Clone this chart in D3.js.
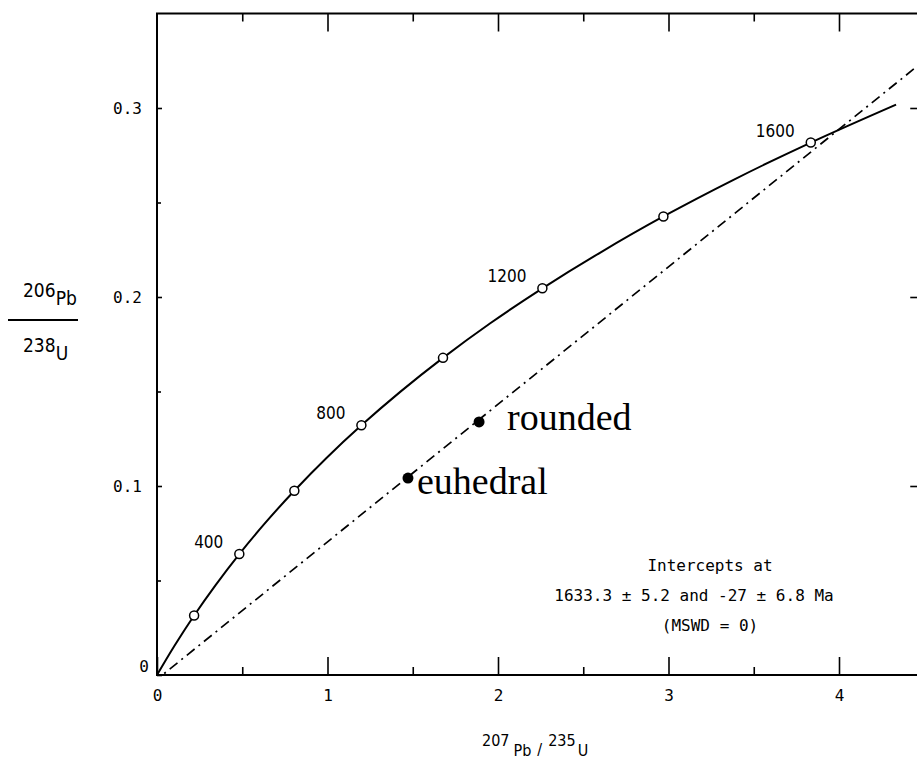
<!DOCTYPE html>
<html>
<head>
<meta charset="utf-8">
<script src="https://cdn.jsdelivr.net/npm/d3@7"></script>
<style>
  body { margin: 0; background: #fff; }
  text { fill: #000; }
</style>
</head>
<body>
<script>
// Concordia curve (ages in Ma)
var concordiaAge = [0, 100, 200, 300, 400, 500, 600, 700, 800, 900, 1000, 1100, 1200, 1300, 1400, 1500, 1600, 1700];
var concordiaX = [0, 0.1035, 0.2177, 0.3437, 0.4828, 0.6362, 0.8056, 0.9925, 1.1988, 1.4264, 1.6774, 1.9546, 2.2603, 2.5977, 2.9701, 3.3812, 3.8344, 4.3347];
var concordiaY = [0, 0.0156, 0.0315, 0.0476, 0.0640, 0.0806, 0.0975, 0.1147, 0.1321, 0.1498, 0.1678, 0.1861, 0.2046, 0.2234, 0.2426, 0.2620, 0.2817, 0.3018];

// Age markers (open circles) and the ones that carry a label
var markedAges = [200, 400, 600, 800, 1000, 1200, 1400, 1600];
var labelledAges = [400, 800, 1200, 1600];

// Zircon fractions
var sampleNames = ["euhedral", "rounded"];
var sampleX = [1.472, 1.889];
var sampleY = [0.1042, 0.1339];

// Discordia chord (lower intercept -> past upper intercept)
var discordiaX = [-0.026, 4.6];
var discordiaY = [-0.0042, 0.3324];

// Ticks
var xMajorTicks = [0, 1, 2, 3, 4];
var xMinorTicks = [0.5, 1.5, 2.5, 3.5];
var yMajorTicks = [0, 0.1, 0.2, 0.3];
var yMinorTicks = [0.05, 0.15, 0.25];

var interceptLines = ["Intercepts at", "1633.3 \u00b1 5.2 and -27 \u00b1 6.8 Ma", "(MSWD = 0)"];

var width = 917,
    height = 763;

var plotFont = "'DejaVu Sans Condensed', 'DejaVu Sans', sans-serif";
var monoFont = "'DejaVu Sans Mono', monospace";

var x = d3.scaleLinear().domain([0, 4.5]).range([157, 924.25]);
var y = d3.scaleLinear().domain([0, 0.35]).range([675, 13.5]);

var svg = d3.select("body").append("svg")
    .attr("width", width)
    .attr("height", height)
    .attr("viewBox", [0, 0, width, height]);

svg.append("rect").attr("width", width).attr("height", height).attr("fill", "#fff");

// clip for the lines
svg.append("clipPath").attr("id", "plot")
  .append("rect")
    .attr("x", x(0)).attr("y", y(0.35))
    .attr("width", x(4.5) - x(0)).attr("height", y(0) - y(0.35));

// frame
svg.append("rect")
    .attr("x", x(0)).attr("y", y(0.35))
    .attr("width", x(4.5) - x(0)).attr("height", y(0) - y(0.35))
    .attr("fill", "none")
    .attr("stroke", "#000")
    .attr("stroke-width", 2);

function styleAxis(g) {
    g.select(".domain").remove();
    g.selectAll("line").attr("stroke", "#000").attr("stroke-width", 1.6);
    g.attr("font-family", monoFont).attr("font-size", 16);
}

// bottom axis
svg.append("g")
    .attr("transform", "translate(0," + y(0) + ")")
    .call(d3.axisBottom(x).tickValues(xMajorTicks).tickSize(-18).tickPadding(15).tickFormat(d3.format("d")))
    .call(styleAxis);
svg.append("g")
    .attr("transform", "translate(0," + y(0) + ")")
    .call(d3.axisBottom(x).tickValues(xMinorTicks).tickSize(-8).tickFormat(""))
    .call(styleAxis);

// top axis
svg.append("g")
    .attr("transform", "translate(0," + y(0.35) + ")")
    .call(d3.axisTop(x).tickValues(xMajorTicks.slice(1)).tickSize(-18).tickFormat(""))
    .call(styleAxis);
svg.append("g")
    .attr("transform", "translate(0," + y(0.35) + ")")
    .call(d3.axisTop(x).tickValues(xMinorTicks).tickSize(-8).tickFormat(""))
    .call(styleAxis);

// left axis
var leftAxis = svg.append("g")
    .attr("transform", "translate(" + x(0) + ",0)")
    .call(d3.axisLeft(y).tickValues(yMajorTicks).tickSize(-5).tickPadding(15)
        .tickFormat(function(d) { return d === 0 ? "0" : d3.format(".1f")(d); }))
    .call(styleAxis);
leftAxis.selectAll(".tick").filter(function(d) { return d === 0; })
    .select("text").attr("x", -8).attr("dy", "-0.2em");
svg.append("g")
    .attr("transform", "translate(" + x(0) + ",0)")
    .call(d3.axisLeft(y).tickValues(yMinorTicks).tickSize(-4).tickFormat(""))
    .call(styleAxis);

// right axis (mostly off the page)
svg.append("g")
    .attr("transform", "translate(" + x(4.5) + ",0)")
    .call(d3.axisRight(y).tickValues(yMajorTicks.slice(1)).tickSize(-14).tickFormat(""))
    .call(styleAxis);

// discordia
svg.append("path")
    .datum(d3.range(discordiaX.length))
    .attr("clip-path", "url(#plot)")
    .attr("fill", "none")
    .attr("stroke", "#000")
    .attr("stroke-width", 1.7)
    .attr("stroke-dasharray", "10,5,2,5")
    .attr("d", d3.line()
        .x(function(i) { return x(discordiaX[i]); })
        .y(function(i) { return y(discordiaY[i]); }));

// concordia
svg.append("path")
    .datum(d3.range(concordiaAge.length))
    .attr("fill", "none")
    .attr("stroke", "#000")
    .attr("stroke-width", 2)
    .attr("d", d3.line()
        .curve(d3.curveCatmullRom)
        .x(function(i) { return x(concordiaX[i]); })
        .y(function(i) { return y(concordiaY[i]); }));

svg.append("g").selectAll("circle")
    .data(markedAges)
    .enter()
    .append("circle")
    .attr("cx", function(a) { return x(concordiaX[concordiaAge.indexOf(a)]); })
    .attr("cy", function(a) { return y(concordiaY[concordiaAge.indexOf(a)]); })
    .attr("r", 4.5)
    .attr("fill", "#fff")
    .attr("stroke", "#000")
    .attr("stroke-width", 1.5);

svg.append("g").selectAll("text")
    .data(labelledAges)
    .enter()
    .append("text")
    .attr("x", function(a) { return x(concordiaX[concordiaAge.indexOf(a)]) - 16; })
    .attr("y", function(a) { return y(concordiaY[concordiaAge.indexOf(a)]) - 6; })
    .attr("text-anchor", "end")
    .attr("font-family", plotFont)
    .attr("font-size", 17)
    .text(function(a) { return a; });

// samples
var labelOffset = { euhedral: [9, 16], rounded: [28, 8] };
var samples = svg.append("g").selectAll("g")
    .data(sampleNames)
    .enter()
    .append("g");
samples.append("circle")
    .attr("cx", function(d, i) { return x(sampleX[i]); })
    .attr("cy", function(d, i) { return y(sampleY[i]); })
    .attr("r", 5.5)
    .attr("fill", "#000");
samples.append("text")
    .attr("x", function(d, i) { return x(sampleX[i]) + labelOffset[d][0]; })
    .attr("y", function(d, i) { return y(sampleY[i]) + labelOffset[d][1]; })
    .attr("font-family", "'Liberation Serif', 'Times New Roman', serif")
    .attr("font-size", 38)
    .text(function(d) { return d; });

// intercept note
svg.append("g").selectAll("text")
    .data(interceptLines)
    .enter()
    .append("text")
    .attr("x", function(d, i) { return i === 1 ? 694 : 710; })
    .attr("y", function(d, i) { return 571 + i * 30; })
    .attr("text-anchor", "middle")
    .attr("font-family", monoFont)
    .attr("font-size", 16)
    .text(function(d) { return d; });

// y axis title: 206Pb / 238U
var yTitle = svg.append("g").attr("font-family", plotFont).attr("font-size", 19);
var num = yTitle.append("text").attr("x", 23).attr("y", 297);
num.append("tspan").text("206");
num.append("tspan").attr("dy", 8).text("Pb");
yTitle.append("line")
    .attr("x1", 8).attr("x2", 78)
    .attr("y1", 320).attr("y2", 320)
    .attr("stroke", "#000").attr("stroke-width", 2);
var den = yTitle.append("text").attr("x", 23).attr("y", 352);
den.append("tspan").text("238");
den.append("tspan").attr("dy", 8).text("U");

// x axis title: 207Pb/235U
var xTitle = svg.append("text")
    .attr("x", 482).attr("y", 746)
    .attr("font-family", plotFont)
    .attr("font-size", 16);
xTitle.append("tspan").text("207");
xTitle.append("tspan").attr("dx", 4).attr("dy", 10).text("Pb");
xTitle.append("tspan").attr("dx", 6).attr("dy", -1).text("/");
xTitle.append("tspan").attr("dx", 6).attr("dy", -9).text("235");
xTitle.append("tspan").attr("dx", 2).attr("dy", 10).text("U");
</script>
</body>
</html>
